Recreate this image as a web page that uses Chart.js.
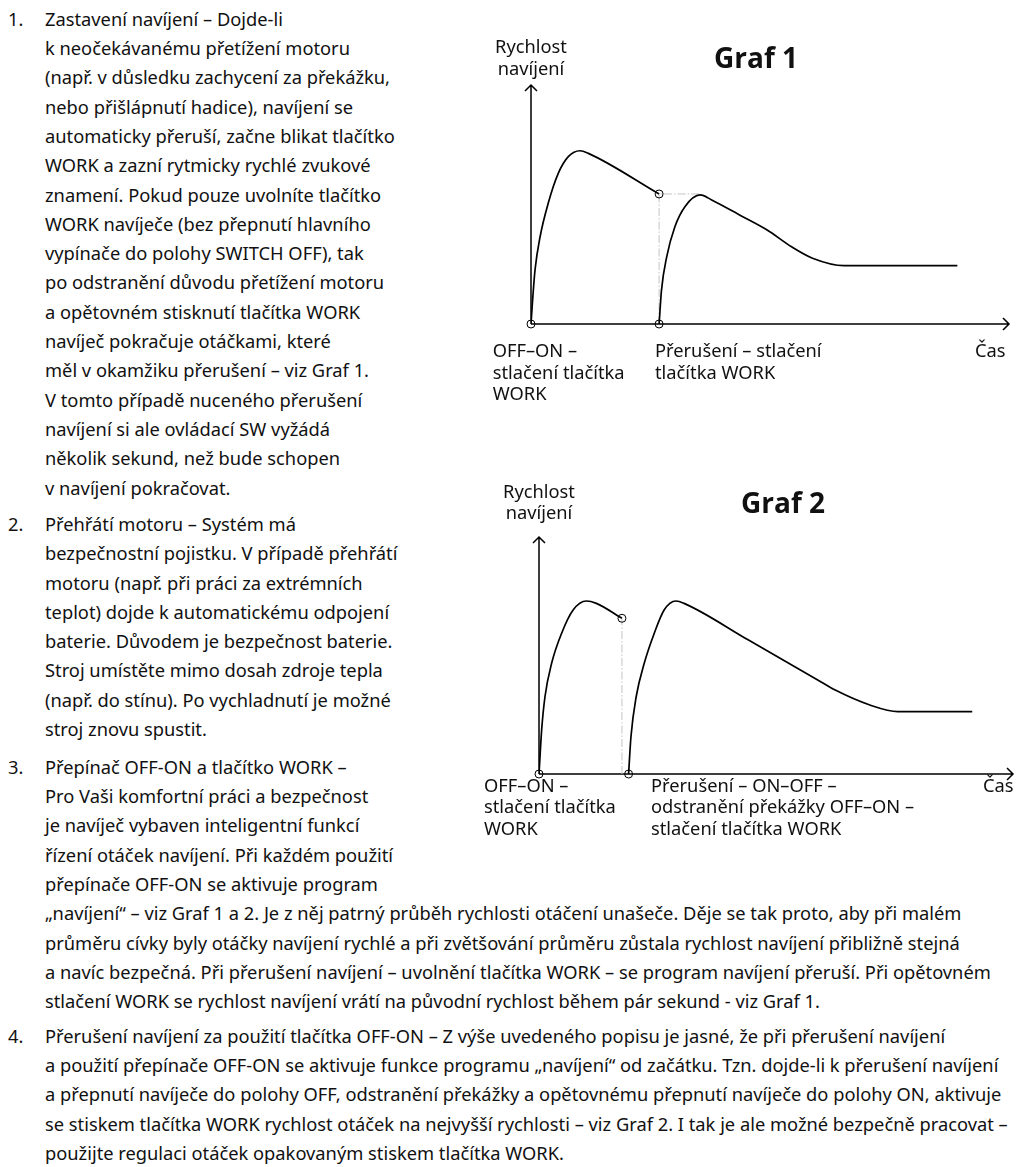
<!DOCTYPE html>
<html lang="cs">
<head>
<meta charset="utf-8">
<title>Graf 1 a Graf 2</title>
<script src="https://cdn.jsdelivr.net/npm/chart.js@4.4.1/dist/chart.umd.min.js"></script>
<style>
    body {
        margin: 0;
        width: 1018px;
        height: 1167px;
        position: relative;
        overflow: hidden;
        background: #fff;
        color: #111;
        font-family: "Noto Sans", sans-serif;
        font-size: 18.3px;
    }
    .item { position: absolute; left: 0; width: 1018px; line-height: 29.3px; white-space: nowrap; }
    .item .num { position: absolute; left: 8px; top: 0; }
    .item .txt { position: absolute; left: 45px; top: 0; }
    canvas { position: absolute; left: 470px; }
</style>
</head>
<body>

<div class="item" style="top:3.8px">
    <span class="num">1.</span>
    <div class="txt">Zastavení navíjení – Dojde-li<br>k neočekávanému přetížení motoru<br>(např. v důsledku zachycení za překážku,<br>nebo přišlápnutí hadice), navíjení se<br>automaticky přeruší, začne blikat tlačítko<br>WORK a zazní rytmicky rychlé zvukové<br>znamení. Pokud pouze uvolníte tlačítko<br>WORK navíječe (bez přepnutí hlavního<br>vypínače do polohy SWITCH OFF), tak<br>po odstranění důvodu přetížení motoru<br>a opětovném stisknutí tlačítka WORK<br>navíječ pokračuje otáčkami, které<br>měl v okamžiku přerušení – viz Graf 1.<br>V tomto případě nuceného přerušení<br>navíjení si ale ovládací SW vyžádá<br>několik sekund, než bude schopen<br>v navíjení pokračovat.</div>
</div>

<div class="item" style="top:509px">
    <span class="num">2.</span>
    <div class="txt">Přehřátí motoru – Systém má<br>bezpečnostní pojistku. V případě přehřátí<br>motoru (např. při práci za extrémních<br>teplot) dojde k automatickému odpojení<br>baterie. Důvodem je bezpečnost baterie.<br>Stroj umístěte mimo dosah zdroje tepla<br>(např. do stínu). Po vychladnutí je možné<br>stroj znovu spustit.</div>
</div>

<div class="item" style="top:751.8px">
    <span class="num">3.</span>
    <div class="txt">Přepínač OFF-ON a tlačítko WORK –<br>Pro Vaši komfortní práci a bezpečnost<br>je navíječ vybaven inteligentní funkcí<br>řízení otáček navíjení. Při každém použití<br>přepínače OFF-ON se aktivuje program<br>„navíjení“ – viz Graf 1 a 2. Je z něj patrný průběh rychlosti otáčení unašeče. Děje se tak proto, aby při malém<br>průměru cívky byly otáčky navíjení rychlé a při zvětšování průměru zůstala rychlost navíjení přibližně stejná<br>a navíc bezpečná. Při přerušení navíjení – uvolnění tlačítka WORK – se program navíjení přeruší. Při opětovném<br>stlačení WORK se rychlost navíjení vrátí na původní rychlost během pár sekund - viz Graf 1.</div>
</div>

<div class="item" style="top:1020.8px">
    <span class="num">4.</span>
    <div class="txt">Přerušení navíjení za použití tlačítka OFF-ON – Z výše uvedeného popisu je jasné, že při přerušení navíjení<br>a použití přepínače OFF-ON se aktivuje funkce programu „navíjení“ od začátku. Tzn. dojde-li k přerušení navíjení<br>a přepnutí navíječe do polohy OFF, odstranění překážky a opětovnému přepnutí navíječe do polohy ON, aktivuje<br>se stiskem tlačítka WORK rychlost otáček na nejvyšší rychlosti – viz Graf 2. I tak je ale možné bezpečně pracovat –<br>použijte regulaci otáček opakovaným stiskem tlačítka WORK.</div>
</div>

<canvas id="graf1" width="548" height="390" style="top:20px"></canvas>
<canvas id="graf2" width="548" height="420" style="top:440px"></canvas>

<script>
// [čas, rychlost] – both axes run 0..100 (arbitrary units)
const g1Start = [[0, 0], [0.3, 9], [0.84, 22.6], [1.9, 36.5], [3.6, 50.5], [5.7, 63], [7.8, 70], [10.25, 72.5], [12, 71.4], [26.8, 54.4]];
const g1Restart = [[26.8, 0], [27.3, 14.2], [28.4, 28.2], [30.1, 40.7], [32.2, 49.1], [35.4, 54], [37.8, 51.9], [44, 45.2], [49.4, 39.3], [54.5, 32.3], [58.9, 27.5], [65.5, 24.4], [89.2, 24.4]];
const g1Marks = [[0, 0], [26.8, 0], [26.8, 54.4]];
const g1Guide = [[26.8, 0], [26.8, 54.4], [35.4, 54.4]];

const g2Start = [[0, 0], [0.56, 18.6], [1.26, 32.6], [2.66, 46.7], [4.75, 59.3], [7.2, 69.2], [10, 73], [12.1, 72], [17.5, 65.7]];
const g2Restart = [[18.9, 0], [19.4, 15.7], [20.5, 32.6], [22.2, 46.7], [24.3, 59.3], [26.4, 69.2], [28.9, 73], [30.6, 72], [44.2, 56.5], [58.8, 39.7], [62.5, 35.4], [69.8, 29.1], [75.7, 26.3], [91.4, 26.3]];
const g2Marks = [[0, 0], [17.5, 65.7], [18.9, 0]];
const g2Guide = [[17.5, 0], [17.5, 65.7]];

const xy = pts => pts.map(([x, y]) => ({ x, y }));

const textFont = '18.3px "Noto Sans"';
const titleFont = 'bold 28px "Open Sans"';

// axes with arrow heads + the free text around each graph
const sketch = {
    id: 'sketch',
    beforeDatasetsDraw(chart) {
        const { ctx, chartArea: a } = chart;
        ctx.save();
        ctx.strokeStyle = '#000';
        ctx.lineWidth = 1.5;
        ctx.beginPath();
        ctx.moveTo(a.left, a.bottom);
        ctx.lineTo(a.right, a.bottom);
        ctx.moveTo(a.left, a.bottom);
        ctx.lineTo(a.left, a.top);
        ctx.moveTo(a.right - 6, a.bottom - 6);
        ctx.lineTo(a.right, a.bottom);
        ctx.lineTo(a.right - 6, a.bottom + 6);
        ctx.moveTo(a.left - 6, a.top + 6);
        ctx.lineTo(a.left, a.top);
        ctx.lineTo(a.left + 6, a.top + 6);
        ctx.stroke();
        ctx.restore();
    },
    afterDraw(chart, args, opts) {
        const ctx = chart.ctx;
        ctx.save();
        ctx.fillStyle = '#111';
        ctx.textBaseline = 'alphabetic';
        (opts.labels || []).forEach(l => {
            ctx.font = l.font || textFont;
            ctx.textAlign = l.align || 'left';
            l.lines.forEach((line, i) => ctx.fillText(line, l.x, l.y + i * (l.gap || 21.5)));
        });
        ctx.restore();
    }
};

function makeGraf(id, start, restart, marks, guide, padding, labels) {
    return new Chart(document.getElementById(id), {
        type: 'scatter',
        data: {
            datasets: [
                {
                    data: xy(marks),
                    pointRadius: 4,
                    pointBorderWidth: 1,
                    pointBorderColor: '#000',
                    pointBackgroundColor: 'rgba(255,255,255,0)',
                    clip: false
                },
                {
                    data: xy(start),
                    showLine: true,
                    cubicInterpolationMode: 'monotone',
                    borderColor: '#000',
                    borderWidth: 1.7,
                    pointRadius: 0
                },
                {
                    data: xy(restart),
                    showLine: true,
                    cubicInterpolationMode: 'monotone',
                    borderColor: '#000',
                    borderWidth: 1.7,
                    pointRadius: 0
                },
                {
                    data: xy(guide),
                    showLine: true,
                    tension: 0,
                    borderColor: '#c4c4c4',
                    borderWidth: 1,
                    borderDash: [8, 2, 1.5, 2],
                    pointRadius: 0
                }
            ]
        },
        options: {
            responsive: false,
            animation: false,
            layout: { padding },
            scales: {
                x: { type: 'linear', min: 0, max: 100, display: false },
                y: { type: 'linear', min: 0, max: 100, display: false }
            },
            plugins: {
                legend: { display: false },
                tooltip: { enabled: false },
                sketch: { labels }
            }
        },
        plugins: [sketch]
    });
}

document.addEventListener('DOMContentLoaded', () => {
    makeGraf('graf1', g1Start, g1Restart, g1Marks, g1Guide,
        { left: 61, right: 9, top: 65, bottom: 86 },
        [
            { lines: ['Rychlost', 'navíjení'], x: 61, y: 33.3, align: 'center' },
            { lines: ['Graf 1'], x: 286, y: 48.3, align: 'center', font: titleFont },
            { lines: ['OFF–ON –', 'stlačení tlačítka', 'WORK'], x: 22.7, y: 337 },
            { lines: ['Přerušení – stlačení', 'tlačítka WORK'], x: 185, y: 337 },
            { lines: ['Čas'], x: 505, y: 337 }
        ]);

    makeGraf('graf2', g2Start, g2Restart, g2Marks, g2Guide,
        { left: 69, right: 2, top: 97, bottom: 86 },
        [
            { lines: ['Rychlost', 'navíjení'], x: 69, y: 58.3, align: 'center', gap: 21 },
            { lines: ['Graf 2'], x: 313, y: 72.7, align: 'center', font: titleFont },
            { lines: ['OFF–ON –', 'stlačení tlačítka', 'WORK'], x: 14, y: 351.7 },
            { lines: ['Přerušení – ON–OFF –', 'odstranění překážky OFF–ON –', 'stlačení tlačítka WORK'], x: 181, y: 351.7 },
            { lines: ['Čas'], x: 513, y: 351.7 }
        ]);
});
</script>
</body>
</html>
